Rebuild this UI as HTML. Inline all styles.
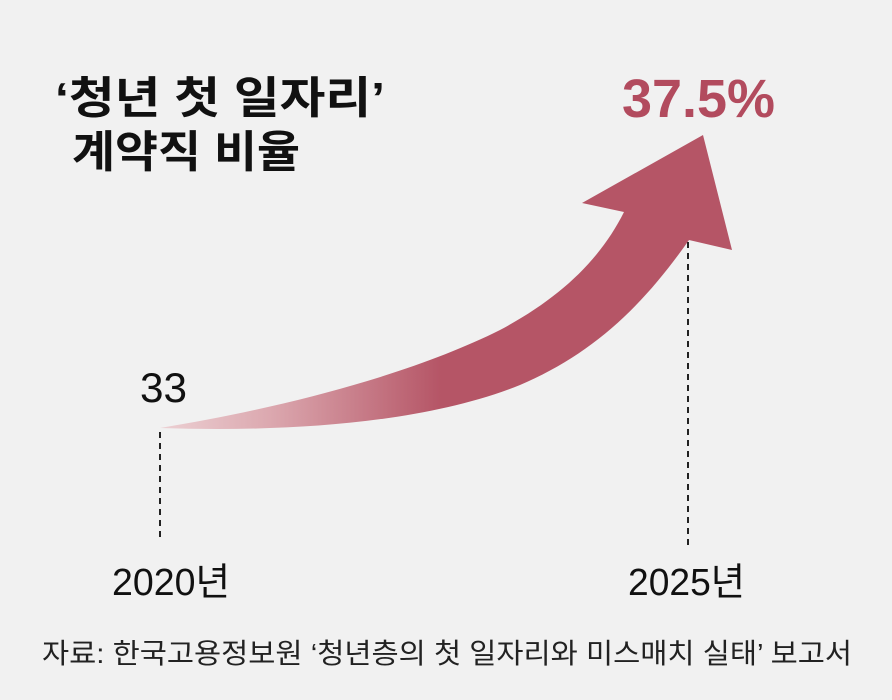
<!DOCTYPE html>
<html><head><meta charset="utf-8"><style>
body{margin:0;background:#f1f1f1;}
svg{display:block}
text{font-family:"Liberation Sans","Noto Sans CJK KR",sans-serif;}
</style></head><body>
<svg width="892" height="700" viewBox="0 0 892 700">
<rect width="892" height="700" fill="#f1f1f1"/>
<defs>
<linearGradient id="g" x1="160" y1="0" x2="700" y2="0" gradientUnits="userSpaceOnUse">
<stop offset="0" stop-color="#ecd0d3"/>
<stop offset="0.2" stop-color="#dca9b0"/>
<stop offset="0.52" stop-color="#b55566"/>
<stop offset="1" stop-color="#b55566"/>
</linearGradient>
</defs>
<path d="M160,428 C300,405 420,370 500,330 C560,298 600,260 624,212 L582,203 L703,135 L732,250 L689,240 C640,310 590,355 520,385 C420,425 280,432 160,428 Z" fill="url(#g)"/>
<line x1="160" y1="432" x2="160" y2="542" stroke="#222" stroke-width="2" stroke-dasharray="6,5"/>
<line x1="688" y1="242" x2="688" y2="545" stroke="#222" stroke-width="2" stroke-dasharray="6,5"/>
<text x="55" y="113" font-size="44" font-weight="bold" fill="#111" textLength="330" lengthAdjust="spacingAndGlyphs">‘청년 첫 일자리’</text>
<text x="72" y="167" font-size="44" font-weight="bold" fill="#111" textLength="228" lengthAdjust="spacingAndGlyphs">계약직 비율</text>
<text x="622" y="117" font-size="54" font-weight="bold" fill="#b24b5e" textLength="153" lengthAdjust="spacingAndGlyphs">37.5%</text>
<text x="140" y="402" font-size="42" fill="#111" textLength="47" lengthAdjust="spacingAndGlyphs">33</text>
<text x="112" y="595" font-size="38" fill="#111" textLength="118" lengthAdjust="spacingAndGlyphs">2020년</text>
<text x="628" y="595" font-size="38" fill="#111" textLength="117" lengthAdjust="spacingAndGlyphs">2025년</text>
<text x="42" y="663" font-size="28" fill="#222" textLength="810" lengthAdjust="spacingAndGlyphs">자료: 한국고용정보원 ‘청년층의 첫 일자리와 미스매치 실태’ 보고서</text>
</svg>
</body></html>
